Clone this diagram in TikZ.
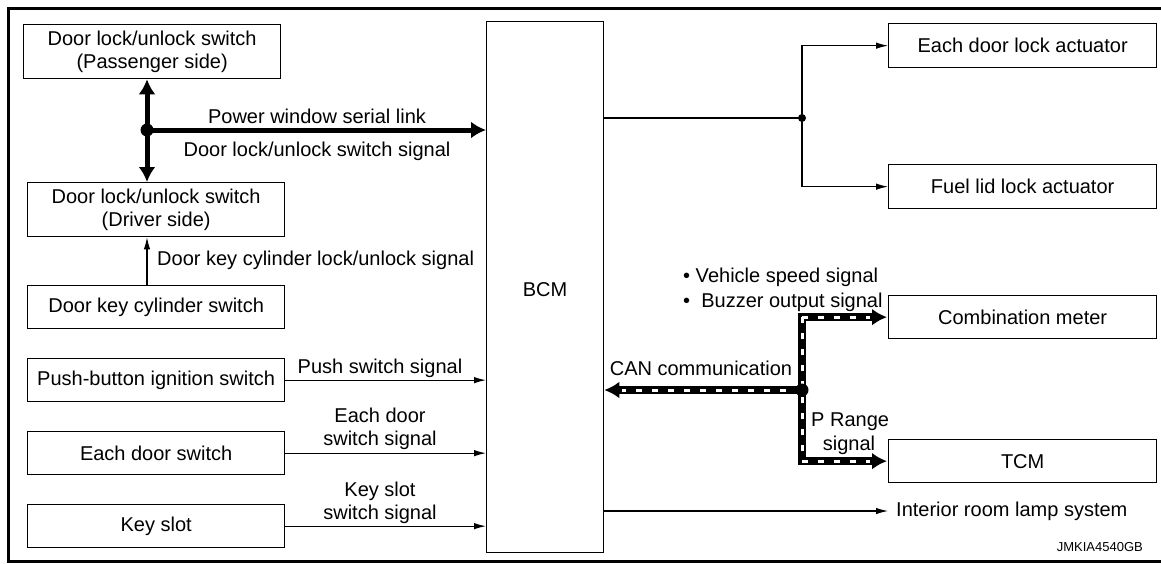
\documentclass[tikz,border=0pt]{standalone}
\usepackage{fontspec}
\setmainfont{Liberation Sans}
\usetikzlibrary{arrows.meta}
\begin{document}
\begin{tikzpicture}[x=1pt,y=-1pt,
  box/.style={draw, line width=1.3pt, anchor=north west, align=center, inner sep=0pt,
    font=\fontsize{20}{23}\selectfont},
  lbl/.style={font=\fontsize{20}{23}\selectfont, inner sep=0pt, align=center},
  thin/.style={line width=1.1pt, -{Latex[length=12pt,width=6.5pt]}},
  thick/.style={line width=5pt, {Latex[length=15pt,width=17pt]}-{Latex[length=15pt,width=17pt]}},
  thickone/.style={line width=5pt, -{Latex[length=15pt,width=17pt]}},
  canblack/.style={line width=8pt, -{Latex[length=15pt,width=17pt]}},
  canwhite/.style={line width=3pt, white, dash pattern=on 6pt off 10pt},
  dot/.style={circle, fill, inner sep=0pt, minimum size=#1}
]
\useasboundingbox (0,0) rectangle (1161,563);
% frame
\draw[line width=3pt] (1161,8.5) -- (8.5,8.5) -- (8.5,561.5) -- (1161,561.5);

% left boxes
\node[box, minimum width=257pt, minimum height=54pt] (pass) at (23,24) {Door lock/unlock switch\\(Passenger side)};
\node[box, minimum width=257pt, minimum height=54pt] (drv) at (27,182) {Door lock/unlock switch\\(Driver side)};
\node[box, minimum width=257pt, minimum height=43pt] (kcyl) at (27,285) {Door key cylinder switch};
\node[box, minimum width=257pt, minimum height=43pt] (push) at (27,358) {Push-button ignition switch};
\node[box, minimum width=257pt, minimum height=43pt] (door) at (27,431) {Each door switch};
\node[box, minimum width=257pt, minimum height=43pt] (kslot) at (27,504) {Key slot};

% BCM
\node[box, minimum width=117pt, minimum height=531pt] (bcm) at (486,21) {};
\node[lbl] (bcmtxt) at (545,290) {BCM};

% right boxes
\node[box, minimum width=268pt, minimum height=44pt] (edla) at (888,23) {Each door lock actuator};
\node[box, minimum width=268pt, minimum height=44pt] (flla) at (888,164) {Fuel lid lock actuator};
\node[box, minimum width=268pt, minimum height=43pt] (comb) at (888,295) {Combination meter};
\node[box, minimum width=268pt, minimum height=43pt] (tcm) at (888,439) {TCM};

% coordinates
\coordinate (pj) at (147,130);
\coordinate (j1) at (802,118);
\coordinate (j2) at (802,390);
\coordinate (lamp) at (888,511);

% power window serial link
\draw[thick] (pass.south -| pj) -- (drv.north -| pj);
\draw[thickone] (pj) -- (bcm.west |- pj);
\node[dot=13pt] (pjd) at (pj) {};
\node[lbl] (l1) at (317,116) {Power window serial link};
\node[lbl] (l2) at (317,151) {Door lock/unlock switch signal};

% key cylinder
\draw[thin] (kcyl.north -| pj) -- (drv.south -| pj);
\node[lbl, anchor=west] (l3) at (157,260) {Door key cylinder lock/unlock signal};

% inputs
\draw[thin] (push.east) -- (bcm.west |- push.east);
\node[lbl] (l4) at (380,368) {Push switch signal};
\draw[thin] (door.east) -- (bcm.west |- door.east);
\node[lbl] (l5) at (380,429) {Each door\\switch signal};
\draw[thin] (kslot.east) -- (bcm.west |- kslot.east);
\node[lbl] (l6) at (380,503) {Key slot\\switch signal};

% outputs to actuators
\draw[line width=1.1pt] (bcm.east |- j1) -- (j1);
\draw[thin] (j1) |- (edla.west);
\draw[thin] (j1) |- (flla.west);
\node[dot=8pt] (j1d) at (j1) {};

% CAN
\draw[canblack, -] ([yshift=-4pt]j2 |- comb.west) -- ([yshift=4pt]j2 |- tcm.west);
\draw[canblack] ([xshift=-4pt]j2 |- comb.west) -- ([xshift=-1pt]comb.west);
\draw[canblack] ([xshift=-4pt]j2 |- tcm.west) -- ([xshift=-1pt]tcm.west);
\draw[canblack] (j2) -- (bcm.east |- j2);
\draw[canwhite] (j2 |- comb.west) -- (j2 |- tcm.west);
\draw[canwhite] (j2 |- comb.west) -- ([xshift=-18pt]comb.west);
\draw[canwhite] (j2 |- tcm.west) -- ([xshift=-18pt]tcm.west);
\draw[canwhite] (j2) -- ([xshift=18pt]bcm.east |- j2);
\node[dot=13pt] (j2d) at (j2) {};
\node[lbl, anchor=west] (l7) at (683,277) {\textbullet\ Vehicle speed signal};
\node[lbl, anchor=west] (l8) at (683,302) {\textbullet\ \ Buzzer output signal};
\node[lbl] (l9) at (701,368) {CAN communication};
\node[lbl, anchor=north west] (l10) at (811,413) {P Range};
\node[lbl, anchor=north] (l11) at (849,436) {signal};

% interior lamp
\draw[thin] (bcm.east |- lamp) -- (lamp);
\node[lbl, anchor=west] (l12) at (896,511) {Interior room lamp system};

\node[inner sep=0pt, anchor=east, font=\fontsize{13}{15}\selectfont] (code) at (1143,547) {JMKIA4540GB};
\end{tikzpicture}
\end{document}
